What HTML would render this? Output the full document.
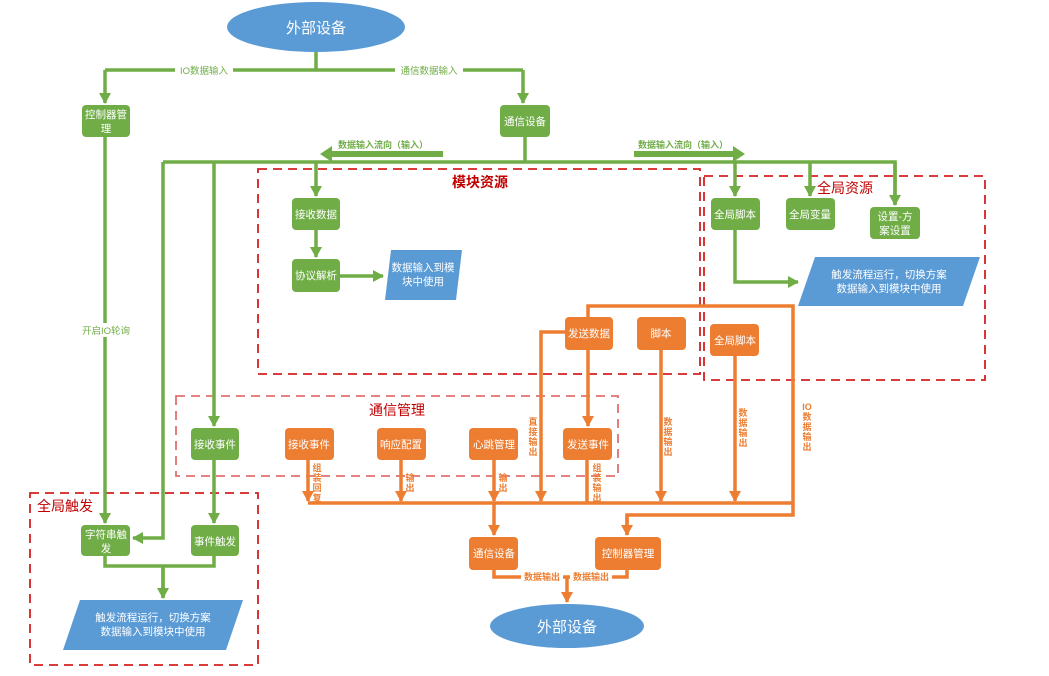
<!DOCTYPE html>
<html><head><meta charset="utf-8"><style>
html,body{margin:0;padding:0;background:#fff;}
svg{display:block;font-family:"Liberation Sans","Noto Sans CJK SC",sans-serif;}
.bt{fill:#fff;font-size:10.5px;text-anchor:middle;}
.g{fill:#70ad47;}
.o{fill:#ed7d31;}
.gl{stroke:#70ad47;stroke-width:3.5;fill:none;}
.ol{stroke:#ed7d31;stroke-width:3.5;fill:none;}
.dash{stroke:#d42020;stroke-width:1.8;fill:none;stroke-dasharray:9 6;}
.ttl{fill:#c00000;font-size:14px;font-weight:bold;text-anchor:middle;}
.vt{fill:#ed7d31;font-size:9px;font-weight:bold;text-anchor:middle;}
.gt{fill:#70ad47;font-size:9.5px;text-anchor:middle;}
</style></head><body>
<svg width="1049" height="676" viewBox="0 0 1049 676">
<defs>
<marker id="ga" markerUnits="userSpaceOnUse" markerWidth="14" markerHeight="14" refX="10" refY="6" orient="auto"><path d="M0,0 L11,6 L0,12 z" fill="#70ad47"/></marker>
<marker id="oa" markerUnits="userSpaceOnUse" markerWidth="14" markerHeight="14" refX="10" refY="6" orient="auto"><path d="M0,0 L11,6 L0,12 z" fill="#ed7d31"/></marker>
</defs>

<rect x="258" y="169" width="442" height="205" class="dash"/>
<rect x="704" y="176" width="281" height="204" class="dash"/>
<rect x="176" y="396" width="442" height="80" class="dash" style="stroke:#e07070"/>
<rect x="30" y="493" width="228" height="172" class="dash"/>
<text x="480" y="187" class="ttl">模块资源</text>
<text x="845" y="193" class="ttl" style="font-weight:normal;font-size:14px">全局资源</text>
<text x="397" y="415" class="ttl" style="font-weight:normal;font-size:14px">通信管理</text>
<text x="65" y="511" class="ttl" style="font-weight:normal;font-size:14px">全局触发</text>

<ellipse cx="316" cy="27" rx="89" ry="25" fill="#5b9bd5"/>
<text x="316" y="33" class="bt" style="font-size:15px">外部设备</text>

<path d="M316,52 V70 M105,70 H523" class="gl"/>
<path d="M105,70 V103" class="gl" marker-end="url(#ga)"/>
<path d="M523,70 V103" class="gl" marker-end="url(#ga)"/>
<rect x="175" y="63" width="58" height="14" fill="#fff"/>
<text x="204" y="74" class="gt">IO数据输入</text>
<rect x="395" y="63" width="68" height="14" fill="#fff"/>
<text x="429" y="74" class="gt">通信数据输入</text>

<path d="M105,137 V523" class="gl" marker-end="url(#ga)"/>
<rect x="78" y="323" width="56" height="14" fill="#fff"/>
<text x="106" y="334" class="gt">开启IO轮询</text>

<path d="M525,137 V162 M163,162 H895 V205" class="gl"/>
<path d="M895,162 V205" class="gl" marker-end="url(#ga)"/>
<path d="M163,162 V538 H133" class="gl" marker-end="url(#ga)"/>
<path d="M214,162 V426" class="gl" marker-end="url(#ga)"/>
<path d="M316,162 V196" class="gl" marker-end="url(#ga)"/>
<path d="M735,162 V196" class="gl" marker-end="url(#ga)"/>
<path d="M810,162 V196" class="gl" marker-end="url(#ga)"/>
<rect x="330" y="151" width="113" height="6" fill="#70ad47"/>
<path d="M320,154 L332,146 L332,162 z" fill="#70ad47"/>
<text x="383" y="148" class="gt" style="font-weight:bold;font-size:9px">数据输入流向（输入）</text>
<rect x="634" y="151" width="100" height="6" fill="#70ad47"/>
<path d="M745,154 L733,146 L733,162 z" fill="#70ad47"/>
<text x="683" y="148" class="gt" style="font-weight:bold;font-size:9px">数据输入流向（输入）</text>

<path d="M316,230 V257" class="gl" marker-end="url(#ga)"/>
<path d="M340,276 H383" class="gl" marker-end="url(#ga)"/>
<path d="M735,229 V282 H798" class="gl" marker-end="url(#ga)"/>
<path d="M214,460 V523" class="gl" marker-end="url(#ga)"/>
<path d="M105,556 V566 H214 V556 M163,566 V598" class="gl"/>
<path d="M163,566 V598" class="gl" marker-end="url(#ga)"/>

<rect x="82" y="105" width="48" height="32" rx="4" class="g"/>
<text x="106" y="118" class="bt">控制器管</text><text x="106" y="132" class="bt">理</text>
<rect x="500" y="105" width="50" height="32" rx="4" class="g"/>
<text x="525" y="125" class="bt">通信设备</text>
<rect x="292" y="198" width="48" height="32" rx="4" class="g"/>
<text x="316" y="218" class="bt">接收数据</text>
<rect x="292" y="259" width="48" height="33" rx="4" class="g"/>
<text x="316" y="279" class="bt">协议解析</text>
<rect x="711" y="198" width="49" height="32" rx="4" class="g"/>
<text x="735" y="218" class="bt">全局脚本</text>
<rect x="786" y="198" width="49" height="32" rx="4" class="g"/>
<text x="810" y="218" class="bt">全局变量</text>
<rect x="870" y="207" width="50" height="32" rx="4" class="g"/>
<text x="895" y="220" class="bt">设置-方</text><text x="895" y="234" class="bt">案设置</text>
<rect x="191" y="428" width="48" height="32" rx="4" class="g"/>
<text x="215" y="448" class="bt">接收事件</text>
<rect x="191" y="525" width="48" height="31" rx="4" class="g"/>
<text x="215" y="545" class="bt">事件触发</text>
<rect x="81" y="525" width="49" height="31" rx="4" class="g"/>
<text x="106" y="538" class="bt">字符串触</text><text x="106" y="552" class="bt">发</text>

<polygon points="391,250 462,250 456,300 385,300" fill="#5b9bd5"/>
<text x="423" y="271" class="bt">数据输入到模</text><text x="423" y="285" class="bt">块中使用</text>
<polygon points="815,257 980,257 963,306 798,306" fill="#5b9bd5"/>
<text x="889" y="278" class="bt">触发流程运行，切换方案</text><text x="889" y="292" class="bt">数据输入到模块中使用</text>
<polygon points="80,600 243,600 226,650 63,650" fill="#5b9bd5"/>
<text x="153" y="621" class="bt">触发流程运行，切换方案</text><text x="153" y="635" class="bt">数据输入到模块中使用</text>

<path d="M588,317 V306 H793 V515 H627 V535" class="ol"/>
<path d="M627,515 V535" class="ol" marker-end="url(#oa)"/>
<path d="M565,332 H541 V501" class="ol" marker-end="url(#oa)"/>
<path d="M588,350 V426" class="ol" marker-end="url(#oa)"/>
<path d="M661,350 V501" class="ol" marker-end="url(#oa)"/>
<path d="M735,356 V501" class="ol" marker-end="url(#oa)"/>
<path d="M308,503 H793" class="ol"/>
<path d="M308,460 V501" class="ol" marker-end="url(#oa)"/>
<path d="M401,460 V501" class="ol" marker-end="url(#oa)"/>
<path d="M494,460 V501" class="ol" marker-end="url(#oa)"/>
<path d="M587,460 V503" class="ol"/>
<path d="M494,503 V535" class="ol" marker-end="url(#oa)"/>
<path d="M494,570 V577 H627 V570" class="ol"/>
<path d="M567,577 V602" class="ol" marker-end="url(#oa)"/>
<rect x="521" y="571" width="42" height="12" fill="#fff"/>
<text x="542" y="580" class="vt">数据输出</text>
<rect x="570" y="571" width="42" height="12" fill="#fff"/>
<text x="591" y="580" class="vt">数据输出</text>

<g class="vt">
<text x="317" y="471">组</text><text x="317" y="481">装</text><text x="317" y="491">回</text><text x="317" y="501">复</text>
<text x="410" y="481">输</text><text x="410" y="491">出</text>
<text x="503" y="481">输</text><text x="503" y="491">出</text>
<text x="597" y="471">组</text><text x="597" y="481">装</text><text x="597" y="491">输</text><text x="597" y="501">出</text>
<text x="533" y="425">直</text><text x="533" y="435">接</text><text x="533" y="445">输</text><text x="533" y="455">出</text>
<text x="668" y="425">数</text><text x="668" y="435">据</text><text x="668" y="445">输</text><text x="668" y="455">出</text>
<text x="743" y="416">数</text><text x="743" y="426">据</text><text x="743" y="436">输</text><text x="743" y="446">出</text>
<text x="807" y="410">IO</text><text x="807" y="420">数</text><text x="807" y="430">据</text><text x="807" y="440">输</text><text x="807" y="450">出</text>
</g>

<rect x="565" y="317" width="48" height="33" rx="4" class="o"/>
<text x="589" y="337" class="bt">发送数据</text>
<rect x="637" y="317" width="49" height="33" rx="4" class="o"/>
<text x="661" y="337" class="bt">脚本</text>
<rect x="710" y="324" width="49" height="32" rx="4" class="o"/>
<text x="735" y="344" class="bt">全局脚本</text>
<rect x="285" y="428" width="49" height="32" rx="4" class="o"/>
<text x="309" y="448" class="bt">接收事件</text>
<rect x="377" y="428" width="49" height="32" rx="4" class="o"/>
<text x="401" y="448" class="bt">响应配置</text>
<rect x="469" y="428" width="49" height="32" rx="4" class="o"/>
<text x="494" y="448" class="bt">心跳管理</text>
<rect x="563" y="428" width="49" height="32" rx="4" class="o"/>
<text x="588" y="448" class="bt">发送事件</text>
<rect x="469" y="537" width="49" height="33" rx="4" class="o"/>
<text x="494" y="557" class="bt">通信设备</text>
<rect x="595" y="537" width="66" height="33" rx="4" class="o"/>
<text x="628" y="557" class="bt">控制器管理</text>

<ellipse cx="567" cy="626" rx="77" ry="22" fill="#5b9bd5"/>
<text x="567" y="632" class="bt" style="font-size:15px">外部设备</text>
</svg>
</body></html>
